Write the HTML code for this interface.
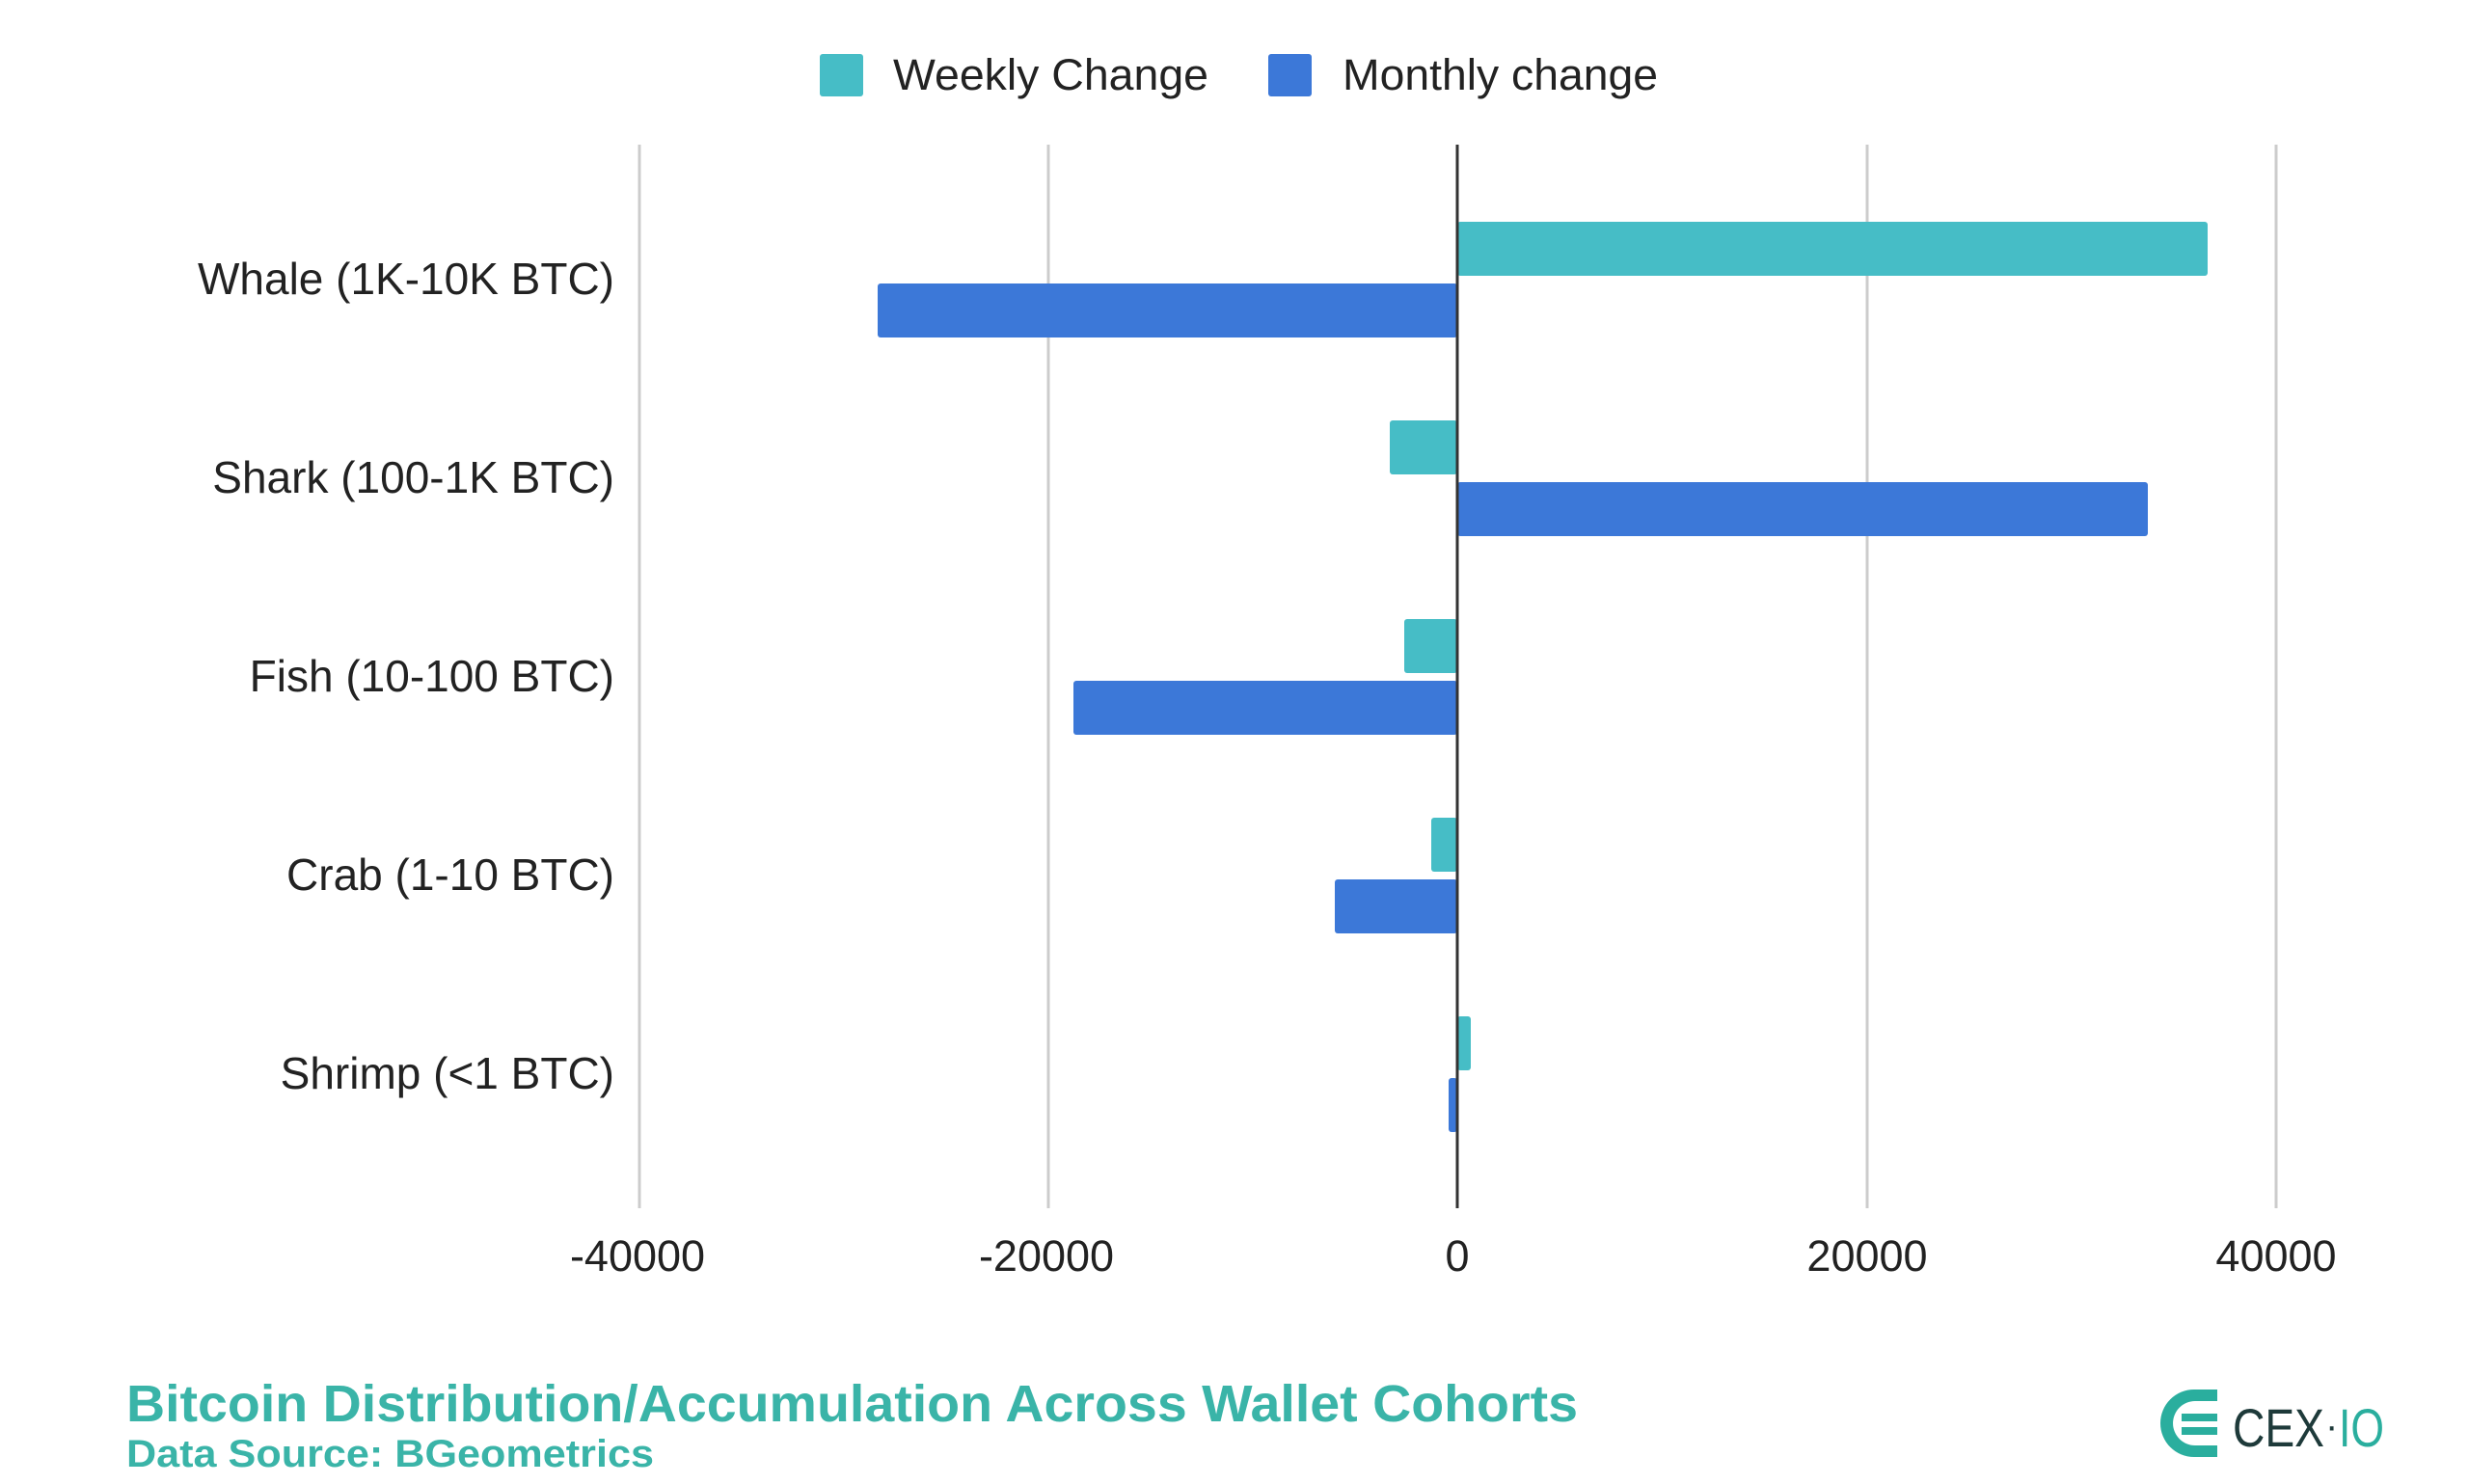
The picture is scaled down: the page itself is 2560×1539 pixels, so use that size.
<!DOCTYPE html>
<html><head><meta charset="utf-8"><style>
html,body{margin:0;padding:0;background:#fff;}
svg{display:block;}
text{font-family:"Liberation Sans",Arial,sans-serif;}
</style></head><body>
<svg width="2560" height="1539" viewBox="0 0 2560 1539" xmlns="http://www.w3.org/2000/svg">
<rect width="2560" height="1539" fill="#fff"/>
<!-- legend -->
<rect x="850" y="56" width="45" height="44" rx="3" fill="#46BDC6"/>
<text x="926" y="93" font-size="45" fill="#222" textLength="327" lengthAdjust="spacingAndGlyphs">Weekly Change</text>
<rect x="1315" y="56" width="45" height="44" rx="3" fill="#3C78D8"/>
<text x="1392" y="93" font-size="45" fill="#222" textLength="327" lengthAdjust="spacingAndGlyphs">Monthly change</text>
<!-- grid -->
<g stroke="#cccccc" stroke-width="3">
<line x1="663" y1="150" x2="663" y2="1253"/>
<line x1="1087" y1="150" x2="1087" y2="1253"/>
<line x1="1936" y1="150" x2="1936" y2="1253"/>
<line x1="2360" y1="150" x2="2360" y2="1253"/>
</g>
<!-- bars -->
<g fill="#46BDC6">
<rect x="1511" y="230" width="778" height="56" rx="3"/>
<rect x="1441" y="436" width="70" height="56" rx="3"/>
<rect x="1456" y="642" width="55" height="56" rx="3"/>
<rect x="1484" y="848" width="27" height="56" rx="3"/>
<rect x="1511" y="1054" width="14" height="56" rx="3"/>
</g>
<g fill="#3C78D8">
<rect x="910" y="294" width="601" height="56" rx="3"/>
<rect x="1511" y="500" width="716" height="56" rx="3"/>
<rect x="1113" y="706" width="398" height="56" rx="3"/>
<rect x="1384" y="912" width="127" height="56" rx="3"/>
<rect x="1502" y="1118" width="9" height="56" rx="3"/>
</g>
<line x1="1511" y1="150" x2="1511" y2="1253" stroke="#333" stroke-width="3"/>
<!-- category labels -->
<g font-size="46" fill="#222" text-anchor="end">
<text x="637" y="305">Whale (1K-10K BTC)</text>
<text x="637" y="511">Shark (100-1K BTC)</text>
<text x="637" y="717">Fish (10-100 BTC)</text>
<text x="637" y="923">Crab (1-10 BTC)</text>
<text x="637" y="1129">Shrimp (&lt;1 BTC)</text>
</g>
<!-- ticks -->
<g font-size="45" fill="#222" text-anchor="middle">
<text x="661" y="1318">-40000</text>
<text x="1085" y="1318">-20000</text>
<text x="1511" y="1318">0</text>
<text x="1936" y="1318">20000</text>
<text x="2360" y="1318">40000</text>
</g>
<!-- title -->
<text x="131" y="1474" font-size="54" font-weight="bold" fill="#3AB4A8" textLength="1505" lengthAdjust="spacingAndGlyphs">Bitcoin Distribution/Accumulation Across Wallet Cohorts</text>
<text x="131" y="1521" font-size="40" font-weight="bold" fill="#3AB4A8" textLength="547" lengthAdjust="spacingAndGlyphs">Data Source: BGeometrics</text>
<!-- logo -->
<path d="M2299 1441 L2275 1441 A35 35 0 0 0 2275 1511 L2299 1511 L2299 1499 L2276 1499 A23 23 0 0 1 2276 1453 L2299 1453 Z" fill="#2AAE9E"/>
<rect x="2262" y="1466" width="37" height="8" fill="#2AAE9E"/>
<rect x="2262" y="1480" width="37" height="8" fill="#2AAE9E"/>
<text x="2315" y="1500" font-size="56" fill="#1e3a3a" textLength="95" lengthAdjust="spacingAndGlyphs">CEX</text>
<text x="2411" y="1492" font-size="40" fill="#1e3a3a">·</text>
<text x="2425" y="1500" font-size="56" fill="#2AAE9E" textLength="47" lengthAdjust="spacingAndGlyphs">IO</text>
</svg>
</body></html>
